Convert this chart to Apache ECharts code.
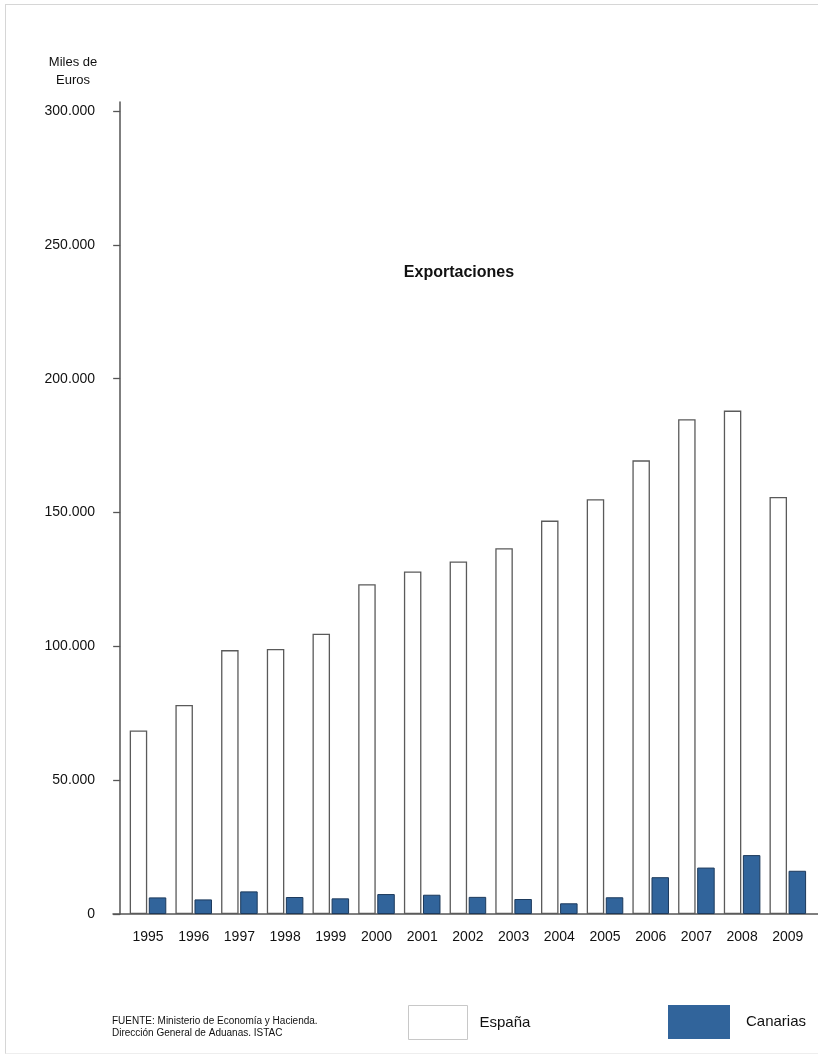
<!DOCTYPE html>
<html>
<head>
<meta charset="utf-8">
<script src="https://cdn.jsdelivr.net/npm/echarts@6/dist/echarts.min.js"></script>
<style>
  html, body { margin: 0; padding: 0; background: #ffffff; overflow: hidden; }
  #frame { position: absolute; left: 5px; top: 4px; width: 830px; height: 1048px;
           border-left: 1.5px solid #d6d6d6; border-top: 1.5px solid #d6d6d6; border-bottom: 1px solid #eeeeee; }
  #chart { position: absolute; left: 0; top: 0; width: 818px; height: 1056px; }
</style>
</head>
<body>
<div id="frame"></div>
<div id="chart"></div>
<script>
// ---- data ----
const years = ['1995','1996','1997','1998','1999','2000','2001','2002','2003','2004','2005','2006','2007','2008','2009'];
const espana = [68600, 78100, 98600, 99000, 104700, 123200, 128000, 131700, 136700, 147000, 155000, 169500, 184900, 188100, 155800];
const canarias = [6200, 5450, 8450, 6350, 5850, 7450, 7200, 6400, 5600, 4000, 6250, 13750, 17350, 22000, 16150];
const yTicks = [0, 50000, 100000, 150000, 200000, 250000, 300000];
const seriesNames = ['España', 'Canarias'];

const FONT = "'Liberation Sans', Arial, Helvetica, sans-serif";
const TXT = '#111111';
const fmt = v => v === 0 ? '0' : String(v).replace(/\B(?=(\d{3})+(?!\d))/g, '.');

const chart = echarts.init(document.getElementById('chart'), null, { renderer: 'canvas' });
chart.setOption({
  animation: false,
  backgroundColor: 'transparent',
  textStyle: { fontFamily: FONT },
  title: [
    { text: 'Exportaciones', left: 459, top: 263, textAlign: 'center', padding: 0,
      textStyle: { fontFamily: FONT, fontSize: 16, fontWeight: 'bold', color: TXT, lineHeight: 19 } },
    { text: 'Miles de\nEuros', left: 73, top: 53, textAlign: 'center', padding: 0,
      textStyle: { fontFamily: FONT, fontSize: 13, fontWeight: 'normal', color: TXT, lineHeight: 18 } },
    { text: 'FUENTE: Ministerio de Economía y Hacienda.\nDirección General de Aduanas. ISTAC', left: 112, top: 1015, padding: 0,
      textStyle: { fontFamily: FONT, fontSize: 10, fontWeight: 'normal', color: TXT, lineHeight: 12 } }
  ],
  legend: [
    { data: [{ name: seriesNames[0], icon: 'rect', itemStyle: { color: '#ffffff', borderColor: '#c8c8c8', borderWidth: 1 } }],
      left: 408, top: 1005, itemWidth: 59, itemHeight: 34, padding: 0, selectedMode: false,
      textStyle: { fontFamily: FONT, fontSize: 15, color: TXT, padding: [0, 0, 0, 7] } },
    { data: [{ name: seriesNames[1], icon: 'rect', itemStyle: { color: '#31649b', borderWidth: 0 } }],
      left: 668, top: 1005, itemWidth: 62, itemHeight: 34, padding: 0, selectedMode: false,
      textStyle: { fontFamily: FONT, fontSize: 15, color: TXT, padding: [0, 0, 0, 11] } }
  ],
  grid: [
    { left: 125.15, width: 685.5, top: 102, bottom: 142, containLabel: false },
    { left: 113, right: 0, top: 102, bottom: 142, containLabel: false }
  ],
  xAxis: [
    { type: 'category', data: years, gridIndex: 0, boundaryGap: true,
      axisLine: { show: false }, axisTick: { show: false },
      axisLabel: { fontFamily: FONT, fontSize: 14, color: TXT, margin: 16, interval: 0 } },
    { type: 'value', gridIndex: 1, min: 0, max: 1, show: true,
      axisLine: { show: true, lineStyle: { color: '#555555', width: 1.5 } },
      axisTick: { show: false }, axisLabel: { show: false }, splitLine: { show: false } }
  ],
  yAxis: [
    { type: 'value', gridIndex: 0, min: 0, max: 303400, offset: 5,
      axisLine: { show: true, lineStyle: { color: '#555555', width: 1.5 } },
      axisTick: { show: true, length: 7, lineStyle: { color: '#555555', width: 1.3 }, customValues: yTicks },
      axisLabel: { fontFamily: FONT, fontSize: 14, color: TXT, margin: 25, customValues: yTicks, formatter: fmt },
      splitLine: { show: false } },
    { type: 'value', gridIndex: 1, show: false, min: 0, max: 1 }
  ],
  series: [
    { name: seriesNames[0], type: 'bar', xAxisIndex: 0, yAxisIndex: 0, data: espana,
      barWidth: 17.5, itemStyle: { color: '#ffffff', borderColor: '#5a5a5a', borderWidth: 1.3 } },
    { name: seriesNames[1], type: 'bar', xAxisIndex: 0, yAxisIndex: 0, data: canarias,
      barWidth: 17.5, barGap: '9%', itemStyle: { color: '#31649b', borderColor: '#1d3a5c', borderWidth: 1 } }
  ]
});
</script>
</body>
</html>
